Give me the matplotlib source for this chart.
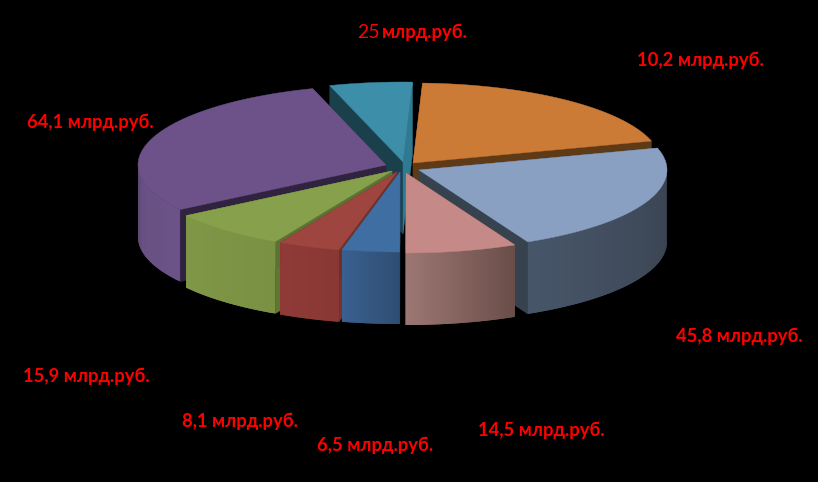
import matplotlib
matplotlib.use("Agg")
import matplotlib.pyplot as plt
from matplotlib.colors import to_rgb
from matplotlib.patches import Polygon
import numpy as np

# slices clockwise starting from the orange one
slice_names = ["orange", "steel", "pink", "blue", "red", "green", "purple", "teal"]
slice_values = [40, 44.5, 14.5, 7.5, 8.1, 15.6, 59.4, 10.8]

label_values = ["25", "10,2", "45,8", "14,5", "6,5", "8,1", "15,9", "64,1"]
label_unit = "млрд.руб."
label_x = [357, 637, 676, 478, 317, 182, 23, 27]
label_y = [32, 60, 336, 430, 445, 421, 376, 122]

top_colors = ["#CC7B37", "#8AA0C3", "#C58A87", "#3F6EA3", "#9E4540", "#86A04B", "#6D5289", "#3D8EA8"]
cut_start = ["#5E3A17", "#3A4655", "#6E4F4C", "#2D4C70", "#7A322E", "#5F7733", "#2F2340", "#1A404C"]
cut_end = ["#5E3A17", "#36434F", "#6E4F4C", "#2D4C70", "#6E2E2A", "#5B7232", "#2F2340", "#2F7A91"]
# wall colours, left end and right end of each slice
wall_left = ["#6A4020", "#475569", "#9C7672", "#3A6090", "#8F3A36", "#7F9747", "#66507F", "#2F7A91"]
wall_right = ["#6A4020", "#39424F", "#6A4E4A", "#2F4E73", "#8A3834", "#7A9043", "#6C5288", "#2F7A91"]

# how far each slice is pulled out of the pie, in pixels
shift_x = [10, 16, 3, -3, -6, -11, -17, 0]
shift_y = [-2, 5, 8, 7, 7, 6, 0, -3]

center_x, center_y = 403, 165
radius_x, radius_y = 248, 80
depth = 72
start_angle = 2.2

# back to front
draw_order = [7, 0, 6, 1, 5, 4, 3, 2]


def rim(cx, cy, angles):
    a = np.radians(angles)
    return cx + radius_x * np.sin(a), cy - radius_y * np.cos(a)


def mix(c1, c2, f):
    return tuple((1 - f) * np.array(to_rgb(c1)) + f * np.array(to_rgb(c2)))


fig = plt.figure(figsize=(8.18, 4.82), dpi=100, facecolor="black")
ax = fig.add_axes([0, 0, 1, 1])
ax.set_xlim(0, 818)
ax.set_ylim(482, 0)
ax.axis("off")

degrees = np.array(slice_values) / sum(slice_values) * 360
starts = start_angle + np.concatenate([[0], np.cumsum(degrees)[:-1]])

for i in draw_order:
    cx = center_x + shift_x[i]
    cy = center_y + shift_y[i]
    a0 = starts[i]
    a1 = a0 + degrees[i]
    layer = draw_order.index(i) * 3

    # cut faces
    for ang, col in [(a0, cut_start[i]), (a1, cut_end[i])]:
        x, y = rim(cx, cy, np.array([ang]))
        face = [(cx, cy), (x[0], y[0]), (x[0], y[0] + depth), (cx, cy + depth)]
        ax.add_patch(Polygon(face, closed=True, fc=col, ec=col, lw=0.3, zorder=1 + layer))

    # outer wall, only the part facing the viewer, strips overlap so no seams show
    lo = max(a0, 90)
    hi = min(a1, 270)
    if hi > lo:
        steps = np.linspace(lo, hi, 41)
        for k in range(40):
            xs, ys = rim(cx, cy, steps[k:k + 3])
            strip = list(zip(xs, ys)) + list(zip(xs[::-1], ys[::-1] + depth))
            # angles run clockwise, so along the front they go right to left
            col = mix(wall_right[i], wall_left[i], k / 39)
            ax.add_patch(Polygon(strip, closed=True, fc=col, ec="none", zorder=2 + layer))

    # top surface
    xs, ys = rim(cx, cy, np.linspace(a0, a1, 120))
    top = [(cx, cy)] + list(zip(xs, ys))
    ax.add_patch(Polygon(top, closed=True, fc=top_colors[i], ec=top_colors[i], lw=0.3, zorder=3 + layer))

font = ["Lato", "DejaVu Sans"]
for val, x, y in zip(label_values, label_x, label_y):
    if val == "25":
        # this one is not bold in the picture
        ax.text(x, y, val, color="#FF0000", fontsize=14, family=font, va="center", ha="left", zorder=60)
        ax.text(x + 25, y, label_unit, color="#FF0000", fontsize=13.2, family=font, fontweight="bold", va="center", ha="left", zorder=60)
    else:
        ax.text(x, y, val + " " + label_unit, color="#FF0000", fontsize=13.2, family=font, fontweight="bold", va="center", ha="left", zorder=60)

fig.savefig("out.png", dpi=100, facecolor="black")
